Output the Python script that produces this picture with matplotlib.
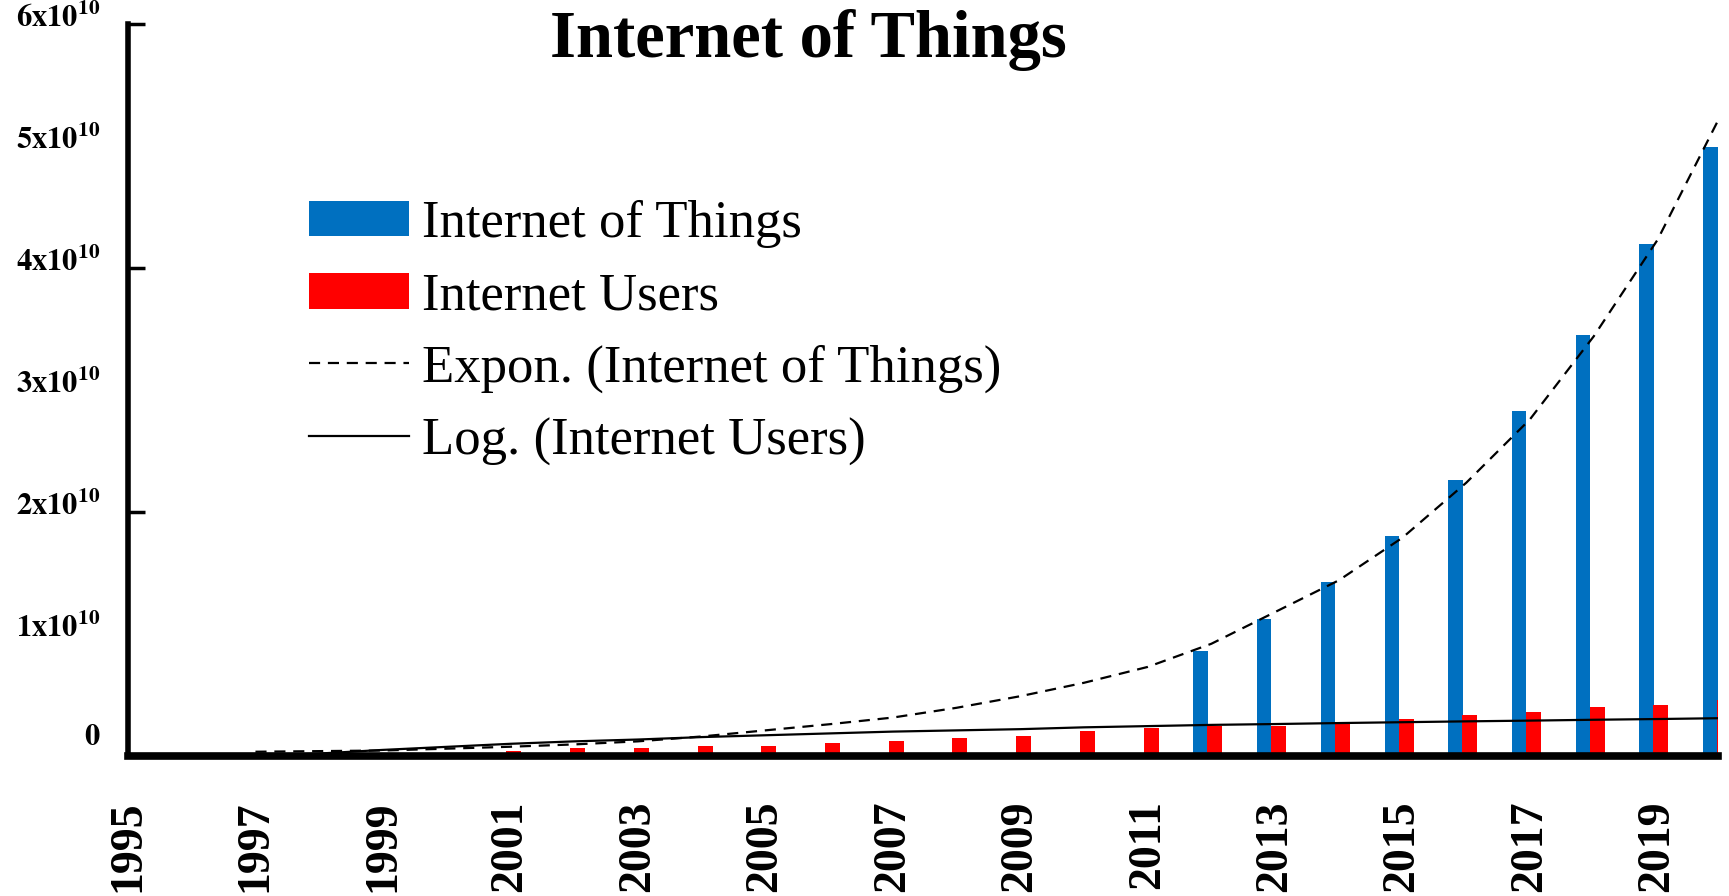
import matplotlib
matplotlib.use("Agg")
import matplotlib.pyplot as plt
import numpy as np
from matplotlib.transforms import ScaledTranslation

plt.rcParams['font.family'] = ['Liberation Serif', 'DejaVu Serif']
plt.rcParams['mathtext.fontset'] = 'stix'

# data (units of 1e10)
years = np.arange(1995, 2021)
iot = [0, 0, 0, 0, 0, 0, 0, 0, 0, 0, 0, 0, 0, 0, 0, 0, 0,
       0.86, 1.12, 1.43, 1.80, 2.26, 2.83, 3.45, 4.20, 4.99]
users = [0.002, 0.004, 0.007, 0.010, 0.013, 0.020, 0.045, 0.065, 0.065, 0.080,
         0.085, 0.105, 0.125, 0.145, 0.160, 0.205, 0.230, 0.245, 0.245, 0.265,
         0.305, 0.340, 0.360, 0.400, 0.420, 0.460]
# trendlines as drawn in the picture, starting at 1997
trend_years = np.arange(1997, 2021)
expon_iot = [0.035, 0.040, 0.045, 0.060, 0.076, 0.095, 0.120, 0.160, 0.210, 0.260,
             0.315, 0.395, 0.490, 0.600, 0.730, 0.920, 1.180, 1.440, 1.790, 2.240,
             2.760, 3.440, 4.230, 5.260]
log_users = [0.0, 0.020, 0.050, 0.075, 0.100, 0.120, 0.135, 0.155, 0.170, 0.185,
             0.200, 0.210, 0.220, 0.235, 0.245, 0.255, 0.262, 0.270, 0.277, 0.284,
             0.290, 0.297, 0.303, 0.310]
tick_years = list(range(1995, 2020, 2))
scale = 1e10

fig = plt.figure(figsize=(17.29, 8.96), dpi=100)
ax = fig.add_axes([128/1729, 1-756/896, (1718-128)/1729, (756-24)/896])

b1 = ax.bar(years - 0.17, np.array(iot)*scale, width=0.225, color='#0070C0',
            label='Internet of Things', zorder=2)
b2 = ax.bar(years + 0.055, np.array(users)*scale, width=0.235, color='#FF0000',
            label='Internet Users', zorder=2)
l1, = ax.plot(trend_years, np.array(expon_iot)*scale, color='black', lw=1.6,
              dashes=(5, 3.5), label='Expon. (Internet of Things)', zorder=3)
l2, = ax.plot(trend_years, np.array(log_users)*scale, color='black', lw=1.6,
              label='Log. (Internet Users)', zorder=3)

ax.set_xlim(1995, 2019.95)
ax.set_ylim(0, 6*scale)

for s in ['top', 'right']:
    ax.spines[s].set_visible(False)
ax.spines['left'].set_linewidth(4)
ax.spines['bottom'].set_linewidth(5.5)
ax.spines['left'].set_zorder(5)
ax.spines['bottom'].set_zorder(5)

ax.set_xticks(tick_years)
ax.set_xticklabels([str(y) for y in tick_years], rotation=90,
                   fontsize=33, fontweight='bold')
ax.tick_params(axis='x', length=0, pad=32)

yvals = np.arange(0, 7)
ax.set_yticks(yvals*scale)
ylabels = [r'$\mathbf{0}$'] + [r'$\mathbf{%dx10^{10}}$' % v for v in yvals[1:]]
ax.set_yticklabels(ylabels, fontsize=22)
ax.tick_params(axis='y', which='major', length=0, pad=20)
ax.yaxis.remove_overlapping_locs = False
ax.set_yticks([2*scale, 4*scale, 6*scale], minor=True)
ax.tick_params(axis='y', which='minor', direction='in', length=12, width=2.5)
for i, lbl in enumerate(ax.get_yticklabels()):
    dy = 0.22 if i == 0 else 0.09
    lbl.set_transform(lbl.get_transform() +
                      ScaledTranslation(0, dy, fig.dpi_scale_trans))

fig.text(808/1729, 1-57/896, 'Internet of Things', ha='center', va='baseline',
         fontsize=48, fontweight='bold')

ax.legend([b1, b2, l1, l2],
          ['Internet of Things', 'Internet Users',
           'Expon. (Internet of Things)', 'Log. (Internet Users)'],
          loc='upper left', bbox_to_anchor=(309/1729, 1-200/896),
          bbox_transform=fig.transFigure, frameon=False, fontsize=38,
          handlelength=1.9, handleheight=0.66, handletextpad=0.25,
          labelspacing=0.46, borderpad=0, borderaxespad=0)

fig.savefig('out.png', dpi=100)
